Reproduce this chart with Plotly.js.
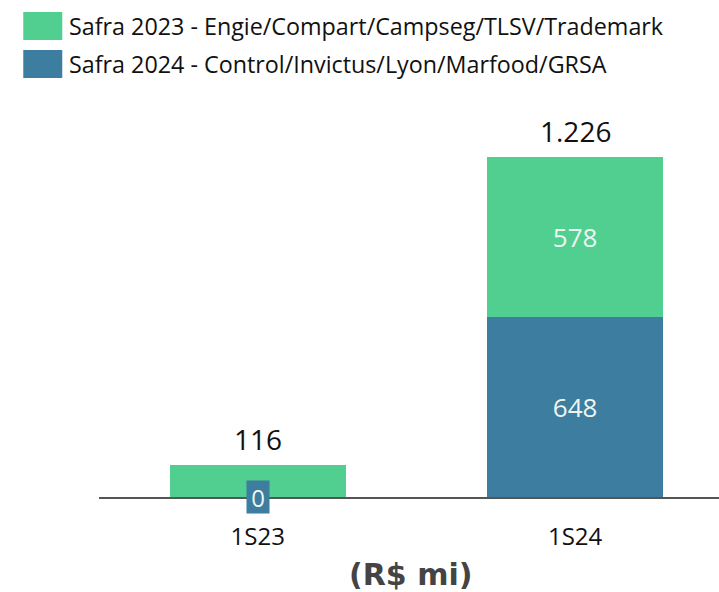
<!DOCTYPE html>
<html>
<head>
<meta charset="utf-8">
<script src="https://cdn.plot.ly/plotly-3.0.1.min.js"></script>
<style>html,body{margin:0;padding:0;background:#fff;}#chart{width:719px;height:592px;}</style>
</head>
<body>
<div id="chart"></div>
<script>
const categories = ["1S23", "1S24"];
const safra2023 = [116, 578];
const safra2024 = [0, 648];
const seriesNames = ["Safra 2023 - Engie/Compart/Campseg/TLSV/Trademark", "Safra 2024 - Control/Invictus/Lyon/Marfood/GRSA"];
const unitLabel = "(R$ mi)";

const green = "#50CF91";
const blue = "#3C7DA0";
const labelFont = "Open Sans, Noto Sans, sans-serif";

function fmt(v) {
  return String(v).replace(/\B(?=(\d{3})+(?!\d))/g, ".");
}
const totals = categories.map((c, i) => safra2023[i] + safra2024[i]);

const traces = [
  {
    type: "bar", x: categories, y: safra2024, name: seriesNames[1],
    marker: {color: blue},
    text: safra2024.map(v => v > 0 ? fmt(v) : ""), textposition: "inside", insidetextanchor: "middle",
    textfont: {family: labelFont, size: 26, color: "#eef6f0"},
    hoverinfo: "skip", width: 0.554
  },
  {
    type: "bar", x: categories, y: safra2023, name: seriesNames[0],
    marker: {color: green},
    text: safra2023.map((v, i) => safra2024[i] > 0 ? fmt(v) : ""), textposition: "inside", insidetextanchor: "middle",
    textfont: {family: labelFont, size: 26, color: "#eef6f0"},
    hoverinfo: "skip", width: 0.554
  }
];

const annotations = [];
categories.forEach((c, i) => {
  annotations.push({
    x: c, y: totals[i], xref: "x", yref: "y", text: fmt(totals[i]),
    showarrow: false, yanchor: "bottom", yshift: 5,
    font: {family: labelFont, size: 28, color: "#111"}
  });
  if (safra2024[i] === 0) {
    annotations.push({
      x: c, y: 0, xref: "x", yref: "y", text: fmt(safra2024[i]),
      showarrow: false, yanchor: "middle", xanchor: "center",
      bgcolor: blue, borderpad: 0, width: 22, height: 32,
      font: {family: labelFont, size: 24, color: "#eef6f0"}
    });
  }
});

// legend (custom, large swatches)
const legendColors = [green, blue];
const legendY = [26, 64];
const shapes = [];
legendColors.forEach((col, k) => {
  shapes.push({
    type: "rect", xref: "paper", yref: "paper",
    x0: (23 - 98.75) / 620.25, x1: (62 - 98.75) / 620.25,
    y0: (497 - (legendY[k] - 14)) / 397, y1: (497 - (legendY[k] + 14)) / 397,
    fillcolor: col, line: {width: 0}
  });
  annotations.push({
    xref: "paper", yref: "paper",
    x: (67 - 98.75) / 620.25, y: (497 - legendY[k]) / 397,
    xanchor: "left", yanchor: "middle", showarrow: false,
    text: seriesNames[k],
    font: {family: labelFont, size: 23.3, color: "#111"}
  });
});
annotations.push({
  xref: "paper", yref: "paper", x: (410 - 98.75) / 620.25, y: (497 - 574) / 397,
  xanchor: "center", yanchor: "middle", showarrow: false, text: "<b>" + unitLabel + "</b>",
  font: {family: "DejaVu Sans, sans-serif", size: 30, color: "#444"}
});

const layout = {
  width: 719, height: 592,
  margin: {l: 98.75, r: 0, t: 100, b: 95},
  paper_bgcolor: "#fff", plot_bgcolor: "#fff",
  barmode: "stack", showlegend: false,
  xaxis: {
    type: "category", range: [-0.5, 1.4535],
    showline: true, linecolor: "#555", linewidth: 1.5,
    ticks: "", showgrid: false, zeroline: false,
    tickfont: {family: labelFont, size: 24, color: "#111"},
    ticklabelstandoff: 18, fixedrange: true
  },
  yaxis: {
    range: [0, 1430], visible: false, showgrid: false, zeroline: false, fixedrange: true
  },
  annotations: annotations,
  shapes: shapes
};

Plotly.newPlot("chart", traces, layout, {displayModeBar: false, staticPlot: true});
</script>
</body>
</html>
